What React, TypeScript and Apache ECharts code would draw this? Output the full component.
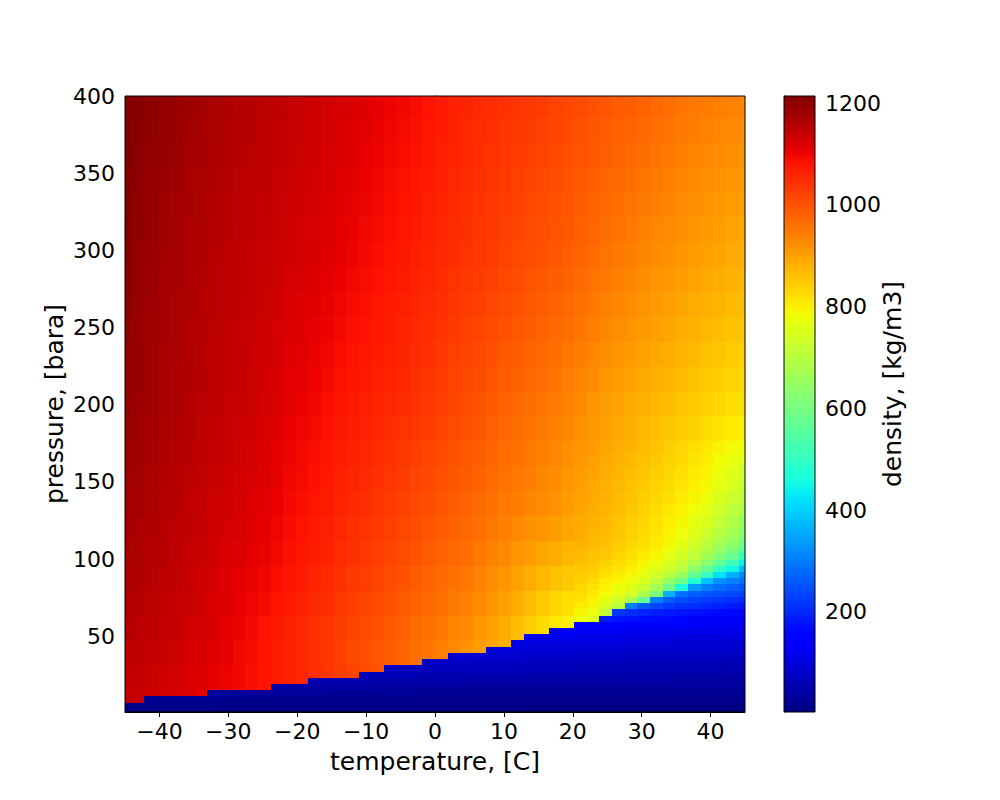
import React, { useEffect, useRef } from "react";
import * as echarts from "echarts";

const T_MIN = -45, T_MAX = 45, T_COUNT = 50;
const P_MIN = 1, P_MAX = 400, P_COUNT = 100;
const D_MIN = 3.4, D_MAX = 1214;
const tempTicks = [-40, -30, -20, -10, 0, 10, 20, 30, 40];
const pressureTicks = [50, 100, 150, 200, 250, 300, 350, 400];
const densityTicks = [200, 400, 600, 800, 1000, 1200];

// first liquid row of each column, for columns 0..35
const liquidStart = [2,2,3,3,3,3,3,4,4,4,4,4,5,5,5,6,6,6,6,7,7,8,8,8,9,9,10,10,10,11,11,12,13,13,14,14];

// gas side: rows 0..13, one value per four columns
const gasRows = [
[4,4,4,4,4,4,4,4,4,4,4,4,4],
[12,12,11,11,10,10,10,10,9,9,9,9,9],
[24,22,21,20,20,19,18,18,17,17,16,16,16],
[36,34,33,32,30,29,28,27,26,25,24,24,23],
[48,46,44,42,40,38,37,36,34,33,32,32,31],
[60,58,56,53,50,48,46,44,43,42,40,39,38],
[72,70,68,65,62,59,56,54,52,50,48,47,46],
[86,84,80,76,73,70,67,64,62,59,57,55,54],
[100,98,94,90,86,83,79,75,72,69,66,64,62],
[112,110,106,102,98,95,90,86,82,79,76,74,72],
[125,122,118,114,110,106,104,98,93,90,87,84,82],
[140,136,132,128,124,120,116,112,106,100,96,93,91],
[155,150,146,142,138,134,130,125,118,112,107,103,101],
[170,165,160,155,150,146,142,136,130,125,119,114,112],
];

// near-critical corner: columns 36..49; rows 14..29 one by one, then every second row up to 42
const cornerRows = [
[152,150,148,146,142,140,138,136,134,132,130,128,127,126],
[775,750,185,178,172,168,165,162,158,155,152,150,147,145],
[790,770,715,220,205,195,188,182,178,172,168,164,160,156],
[802,785,745,700,305,262,238,225,215,208,200,192,186,180],
[812,796,765,735,680,575,305,265,247,235,225,217,210,205],
[821,806,780,760,735,680,610,365,290,268,255,248,240,232],
[829,815,795,776,758,720,665,590,465,340,305,285,270,260],
[837,823,806,790,773,745,705,640,590,475,385,325,305,285],
[844,832,818,803,787,765,735,700,650,575,500,425,362,315],
[851,840,828,814,798,780,755,725,695,630,575,500,450,375],
[858,848,838,824,808,792,772,745,718,675,625,575,515,440],
[865,855,846,832,817,802,788,760,735,705,660,618,575,500],
[871,862,853,840,825,812,798,775,750,722,690,650,610,555],
[877,868,858,844,830,820,805,785,762,735,700,665,640,590],
[882,872,862,848,835,820,807,790,772,747,718,685,660,615],
[885,875,865,851,838,824,811,795,778,756,730,700,672,630],
[888,878,868,855,842,828,815,800,785,765,745,712,685,645],
[893,883,873,860,848,835,822,808,795,778,760,733,705,680],
[898,888,877,864,853,841,829,817,803,790,772,748,725,700],
[902,892,881,869,858,847,835,823,812,798,785,765,745,715],
[906,896,885,873,863,852,841,830,818,805,793,775,755,728],
[910,900,889,878,868,858,847,836,824,813,800,782,770,750],
[914,904,893,883,873,863,852,842,830,820,808,795,782,778],
];

// liquid body: bands of four rows, lowest band first, one value per column
const bodyBands = [
[1142,1138,1133,1128,1124,1118,1111],
[1147,1142,1137,1132,1128,1122,1115,1108,1100,1094,1086,1078,1070,1062,1054,1045,1036,1027,1018,1008,998],
[1152,1147,1142,1138,1134,1127,1120,1113,1105,1097,1089,1080,1071,1062,1052,1042,1033,1023,1013,1004,994,984,974,964,953,942,930,918,905,893,878],
[1158,1153,1148,1143,1139,1132,1125,1118,1110,1100,1092,1082,1074,1065,1055,1045,1036,1027,1018,1009,1000,990,980,970,960,949,937,925,912,900,885,862,843,825,808,795],
[1163,1158,1152,1147,1142,1136,1129,1122,1114,1105,1098,1089,1081,1072,1063,1053,1044,1035,1026,1017,1008,999,989,979,970,959,949,938,925,914,900,880,860,845,832,820],
[1167,1162,1156,1150,1145,1139,1132,1125,1117,1110,1103,1096,1087,1078,1070,1060,1052,1043,1034,1025,1017,1007,998,988,979,969,960,950,938,927,914,898,883,870,858,848],
[1172,1166,1160,1154,1148,1142,1136,1129,1122,1116,1109,1103,1094,1085,1077,1068,1060,1051,1042,1033,1025,1016,1008,998,989,979,972,962,951,940,928,916,904,893,882,872],
[1175,1169,1163,1157,1151,1145,1139,1132,1126,1120,1113,1106,1098,1089,1081,1072,1064,1056,1047,1039,1031,1023,1015,1005,997,988,981,971,961,951,941,931,921,912,903,893],
[1178,1172,1166,1160,1154,1148,1142,1135,1129,1123,1117,1110,1102,1092,1085,1077,1069,1060,1052,1044,1037,1029,1021,1012,1005,996,988,979,970,960,952,943,934,925,915,905],
[1181,1175,1169,1163,1157,1151,1145,1139,1133,1127,1121,1114,1106,1096,1090,1081,1073,1065,1058,1050,1042,1036,1028,1019,1012,1003,995,987,978,968,960,952,943,933,923,913],
[1184,1178,1172,1166,1160,1154,1147,1142,1137,1131,1125,1117,1109,1100,1094,1086,1078,1070,1063,1055,1048,1042,1035,1026,1019,1010,1002,994,985,976,967,959,950,941,930,920],
[1187,1181,1175,1169,1163,1157,1150,1145,1140,1134,1129,1121,1113,1104,1098,1090,1082,1074,1068,1061,1054,1048,1041,1033,1026,1017,1009,1001,992,983,975,966,957,948,938,930,920,910,900,890,880,870,860,850,843,833,822,812,805,797],
[1190,1184,1178,1172,1166,1160,1153,1148,1143,1138,1133,1125,1117,1108,1102,1095,1087,1079,1073,1067,1060,1055,1048,1040,1033,1024,1015,1008,1000,990,982,973,963,955,946,937,928,917,905,897,888,880,872,863,855,847,838,830,822,816],
[1192,1186,1179,1173,1167,1161,1155,1150,1145,1140,1135,1127,1120,1111,1106,1099,1091,1084,1077,1071,1064,1059,1052,1044,1037,1029,1020,1013,1006,996,988,980,970,962,954,945,936,925,914,906,897,889,881,872,864,856,848,840,833,827],
[1195,1187,1180,1174,1168,1162,1156,1151,1146,1141,1136,1130,1123,1115,1110,1103,1096,1088,1082,1075,1069,1064,1057,1049,1042,1034,1025,1019,1011,1002,995,986,977,970,962,953,944,934,923,915,906,898,890,882,874,866,859,851,844,838],
[1197,1189,1181,1175,1169,1163,1157,1152,1147,1142,1138,1132,1126,1118,1113,1107,1100,1093,1086,1079,1073,1068,1061,1053,1046,1039,1030,1024,1017,1009,1001,993,985,977,969,962,953,943,932,923,915,907,899,891,883,877,869,862,855,849],
[1199,1191,1183,1176,1170,1165,1159,1154,1149,1144,1140,1135,1130,1122,1117,1112,1104,1098,1091,1084,1078,1072,1065,1058,1051,1043,1036,1029,1022,1015,1007,1000,992,985,977,970,961,951,940,932,924,915,908,900,893,886,879,873,865,860],
[1201,1192,1184,1177,1171,1166,1160,1155,1150,1145,1141,1137,1133,1125,1121,1116,1109,1102,1095,1088,1082,1077,1070,1062,1055,1048,1041,1035,1028,1022,1014,1006,999,992,985,978,970,959,949,941,933,924,917,910,902,896,890,883,876,871],
[1203,1194,1185,1178,1172,1167,1162,1157,1152,1147,1143,1140,1136,1129,1125,1120,1113,1107,1100,1092,1087,1081,1074,1067,1060,1053,1046,1040,1033,1028,1020,1013,1006,1000,993,986,978,968,958,950,942,933,926,919,912,906,900,894,887,882],
[1204,1196,1187,1181,1175,1169,1164,1159,1154,1149,1145,1142,1138,1131,1127,1122,1116,1110,1103,1095,1090,1084,1077,1070,1063,1056,1049,1043,1036,1031,1024,1017,1010,1004,998,991,983,974,964,956,949,940,933,926,919,913,908,902,895,890],
[1206,1198,1190,1184,1177,1172,1166,1161,1156,1151,1147,1144,1140,1134,1129,1124,1118,1112,1106,1099,1093,1087,1081,1074,1067,1059,1052,1046,1039,1034,1027,1021,1015,1009,1002,996,988,979,970,963,956,948,941,934,926,921,915,910,904,899],
[1207,1200,1192,1186,1180,1174,1168,1163,1158,1153,1150,1146,1142,1136,1131,1126,1120,1115,1109,1102,1096,1090,1084,1077,1070,1062,1055,1049,1042,1037,1031,1025,1019,1013,1007,1000,993,985,976,969,963,955,948,941,933,928,923,918,912,907],
[1209,1202,1195,1189,1183,1177,1171,1166,1161,1156,1152,1148,1144,1138,1134,1129,1123,1118,1112,1105,1100,1094,1088,1081,1073,1066,1059,1053,1046,1041,1035,1029,1024,1018,1012,1005,998,991,983,976,970,963,955,948,941,935,931,926,920,916],
[1210,1204,1198,1192,1185,1180,1173,1168,1163,1158,1154,1150,1146,1141,1136,1131,1125,1120,1115,1109,1103,1097,1091,1084,1077,1069,1062,1056,1049,1044,1038,1033,1028,1022,1016,1010,1003,996,989,982,977,970,963,956,948,943,938,934,929,924],
[1212,1206,1200,1195,1188,1182,1175,1170,1165,1160,1156,1152,1148,1143,1138,1133,1128,1123,1118,1112,1106,1100,1095,1088,1080,1072,1065,1059,1052,1047,1042,1037,1033,1027,1021,1015,1008,1002,995,989,984,978,970,963,955,950,946,942,937,933],
];

function densityAt(c: number, r: number): number {
  if (c < 36) {
    if (r < liquidStart[c]) return gasRows[r][c >> 2];
    return bodyBands[r >> 2][c];
  }
  if (r < 14) return gasRows[r][c >> 2];
  if (r < 30) return cornerRows[r - 14][c - 36];
  if (r < 44) return cornerRows[16 + ((r - 30) >> 1)][c - 36];
  return bodyBands[r >> 2][c];
}

function jetChannel(points: number[][], f: number): number {
  for (let i = 1; i < points.length; i++) {
    if (f <= points[i][0]) {
      const [a, va] = points[i - 1];
      const [b, vb] = points[i];
      return va + ((f - a) / (b - a)) * (vb - va);
    }
  }
  return points[points.length - 1][1];
}
const jetR = [[0, 0], [0.35, 0], [0.66, 1], [0.89, 1], [1, 0.5]];
const jetG = [[0, 0], [0.125, 0], [0.375, 1], [0.64, 1], [0.91, 0], [1, 0]];
const jetB = [[0, 0.5], [0.11, 1], [0.34, 1], [0.65, 0], [1, 0]];
const jetColors: string[] = [];
for (let i = 0; i < 256; i++) {
  const f = i / 255;
  const ch = (p: number[][]) => Math.round(255 * jetChannel(p, f));
  jetColors.push(`rgb(${ch(jetR)},${ch(jetG)},${ch(jetB)})`);
}

function buildCells(): number[][] {
  const tStep = (T_MAX - T_MIN) / (T_COUNT - 1);
  const pStep = (P_MAX - P_MIN) / (P_COUNT - 1);
  const cells: number[][] = [];
  for (let c = 0; c < T_COUNT; c++) {
    const tc = T_MIN + c * tStep;
    for (let r = 0; r < P_COUNT; r++) {
      const pc = P_MIN + r * pStep;
      cells.push([
        Math.max(T_MIN, tc - tStep / 2),
        Math.min(T_MAX, tc + tStep / 2),
        Math.max(P_MIN, pc - pStep / 2),
        Math.min(P_MAX, pc + pStep / 2),
        densityAt(c, r),
      ]);
    }
  }
  return cells;
}

const FONT = "DejaVu Sans";
const TICK_SIZE = 22;
const NAME_SIZE = 25;

function axisStyle(customValues: number[], margin: number) {
  return {
    nameMoveOverlap: false,
    axisLine: { show: true, lineStyle: { color: "#000", width: 1 } },
    axisTick: { show: true, inside: false, length: 5, customValues, lineStyle: { color: "#000", width: 1 } },
    axisLabel: {
      show: true,
      customValues,
      color: "#000",
      fontFamily: FONT,
      fontSize: TICK_SIZE,
      margin,
      formatter: (v: number) => String(v).replace("-", "\u2212"),
    },
    splitLine: { show: false },
    nameTextStyle: { color: "#000", fontFamily: FONT, fontSize: NAME_SIZE },
  };
}

export default function App() {
  const ref = useRef<HTMLDivElement>(null);
  useEffect(() => {
    document.body.style.margin = "0";
    const chart = echarts.init(ref.current!, undefined, { renderer: "svg" });
    const barStops = [];
    for (let i = 0; i <= 64; i++) {
      barStops.push({ offset: i / 64, color: jetColors[255 - Math.round((i * 255) / 64)] });
    }
    const densityAxis = axisStyle(densityTicks, 10);
    chart.setOption({
      animation: false,
      backgroundColor: "#fff",
      grid: [
        { left: 125, top: 96, width: 620, height: 616, show: true, z: 10, backgroundColor: "transparent", borderColor: "#000", borderWidth: 1 },
        { left: 784, top: 96, width: 31, height: 616, show: true, z: 10, backgroundColor: "transparent", borderColor: "#000", borderWidth: 1 },
      ],
      xAxis: [
        { type: "value", gridIndex: 0, min: T_MIN, max: T_MAX, name: "temperature, [C]", nameLocation: "middle", nameGap: 37, ...axisStyle(tempTicks, 8) },
        { type: "value", gridIndex: 1, min: 0, max: 1, show: false },
      ],
      yAxis: [
        { type: "value", gridIndex: 0, min: P_MIN, max: P_MAX, name: "pressure, [bara]", nameLocation: "middle", nameGap: 58, ...axisStyle(pressureTicks, 10) },
        {
          type: "value", gridIndex: 1, position: "right", min: D_MIN, max: D_MAX, name: "density, [kg/m3]", nameLocation: "middle", nameGap: 65, nameRotate: 90,
          ...densityAxis,
          nameTextStyle: { ...densityAxis.nameTextStyle, padding: [0, 0, 0, 40] },
        },
      ],
      visualMap: { show: false, seriesIndex: 0, dimension: 4, min: D_MIN, max: D_MAX, inRange: { color: jetColors } },
      series: [
        {
          type: "custom",
          xAxisIndex: 0,
          yAxisIndex: 0,
          silent: true,
          progressive: 0,
          encode: { x: [0, 1], y: [2, 3] },
          data: buildCells(),
          renderItem: (_p: any, api: any) => {
            const a = api.coord([api.value(0), api.value(3)]);
            const b = api.coord([api.value(1), api.value(2)]);
            const x = Math.round(a[0]), y = Math.round(a[1]);
            return {
              type: "rect",
              shape: { x, y, width: Math.round(b[0]) - x, height: Math.round(b[1]) - y },
              style: { fill: api.visual("color") },
            };
          },
        },
        {
          type: "custom",
          xAxisIndex: 1,
          yAxisIndex: 1,
          silent: true,
          encode: { x: 0, y: [1, 2] },
          data: [[0, D_MIN, D_MAX]],
          renderItem: (_p: any, api: any) => {
            const a = api.coord([0, api.value(2)]);
            const b = api.coord([1, api.value(1)]);
            return {
              type: "rect",
              shape: { x: a[0], y: a[1], width: b[0] - a[0], height: b[1] - a[1] },
              style: { fill: new echarts.graphic.LinearGradient(0, 0, 0, 1, barStops) },
            };
          },
        },
      ],
    });
    return () => chart.dispose();
  }, []);
  return <div ref={ref} style={{ width: 1000, height: 800 }} />;
}
